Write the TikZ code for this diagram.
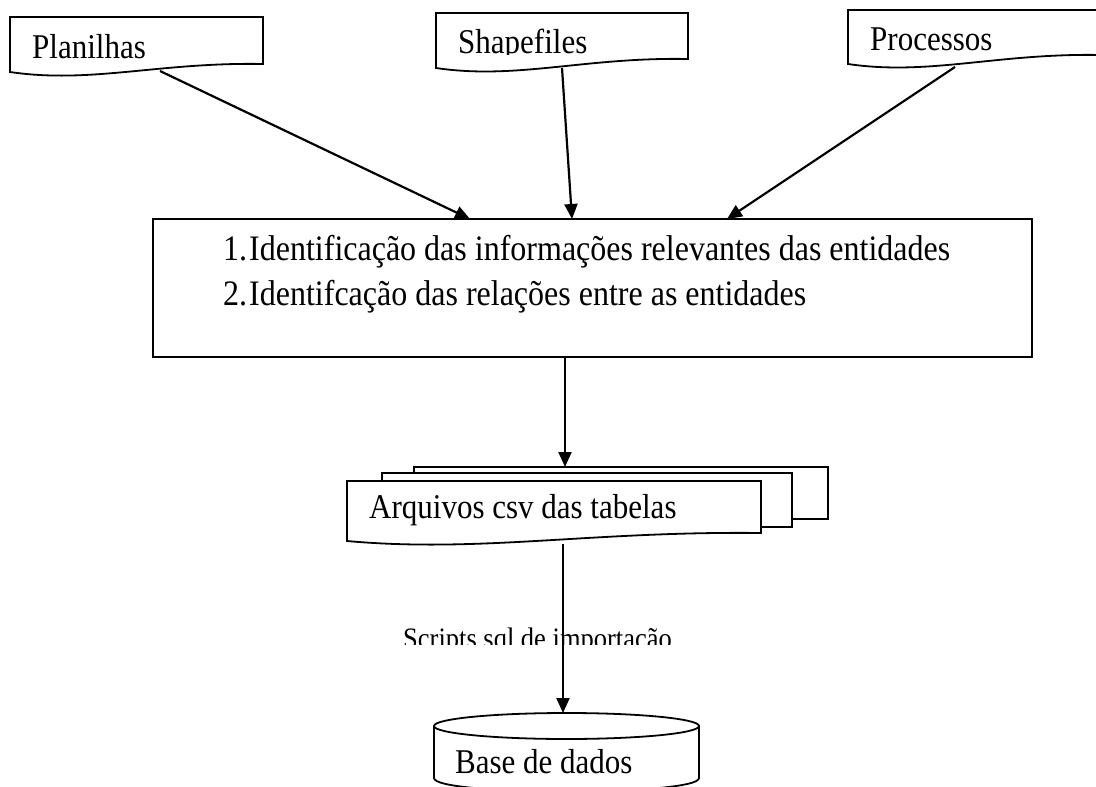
\documentclass[tikz,border=0pt]{standalone}
\usepackage{graphicx}
\usepackage{fontspec}
\setmainfont{Liberation Serif}
\usetikzlibrary{arrows.meta}
\newcommand\talltext[1]{\scalebox{1}[1.12]{#1}}
\tikzset{
  docbox/.style={draw=black, fill=white, line width=1.8pt, line join=miter},
  bigtxt/.style={font=\fontsize{31}{37}\selectfont, anchor=base west, inner sep=0pt},
  maintxt/.style={font=\fontsize{32}{38}\selectfont, anchor=base west, inner sep=0pt},
  lbltxt/.style={font=\fontsize{26.5}{31}\selectfont, anchor=base west, inner sep=0pt},
  arr/.style={line width=2.2pt, -{Triangle[length=15pt,width=13pt]}}
}
% document shape: left, top, right, bottom-right, bottom-left
\newcommand\mydocpath[5]{%
  (#1,#2) -- (#3,#2) -- (#3,#4)
  .. controls ({#3-0.41*(#3-#1)},{#4-2}) and ({#1+0.32*(#3-#1)},{#5+12}) .. (#1,#5) -- cycle}
\begin{document}
\begin{tikzpicture}[x=1pt,y=-1pt]
\useasboundingbox (0,0) rectangle (1096,787);
\clip (0,0) rectangle (1096,787);

% source documents
\draw[docbox] \mydocpath{10}{17}{263}{64}{72};
\node[bigtxt] (planilhas) at (32,58) {\talltext{Planilhas}};

\draw[docbox] \mydocpath{436}{13}{688}{59}{68};
\begin{scope}
  \clip (440,15) rectangle (680,54);
  \node[bigtxt] (shapefiles) at (458,53) {\talltext{Shapefiles}};
\end{scope}

\draw[docbox] \mydocpath{848}{10}{1101}{55}{64};
\node[bigtxt] (processos) at (870,50) {\talltext{Processos}};

% main process box
\node[draw, line width=1.8pt, minimum width=879pt, minimum height=138pt, inner sep=0pt] (main) at (592.5,288) {};
\node[maintxt] (n1) at (223,260) {\talltext{1.}};
\node[maintxt] (t1) at (249,260) {\talltext{Identificação das informações relevantes das entidades}};
\node[maintxt] (n2) at (223,305) {\talltext{2.}};
\node[maintxt] (t2) at (249,305) {\talltext{Identifcação das relações entre as entidades}};

% connectors from sources
\coordinate (s1) at (160,71);
\coordinate (s2) at (562,68);
\coordinate (s3) at (955,67);
\coordinate (m1) at (470,219);
\coordinate (m2) at (572,219);
\coordinate (m3) at (727,219);
\draw[arr] (s1) -- (m1);
\draw[arr] (s2) -- (m2);
\draw[arr] (s3) -- (m3);

% multi-document
\draw[docbox] (414,467) rectangle (828,519);
\draw[docbox] (382,473) rectangle (792,527);
\draw[docbox] \mydocpath{347}{481}{761}{533}{541};
\node[bigtxt] (arquivos) at (369,518) {\talltext{Arquivos csv das tabelas}};

\coordinate (mb) at (565,357);
\coordinate (ct) at (565,467);
\draw[arr] (mb) -- (ct);

% label (clipped as in the original)
\begin{scope}
  \clip (380,600) rectangle (700,644);
  \node[lbltxt] (lbl) at (403,648) {\talltext{Scripts sql de importação}};
\end{scope}

% database cylinder
\draw[line width=1.8pt, fill=white] (434,726) -- (434,778)
  .. controls (434,796) and (699,796) .. (699,778) -- (699,726);
\draw[line width=1.8pt, fill=white] (566.5,726) ellipse [x radius=132.5, y radius=13];
\node[bigtxt] (base) at (455,773) {\talltext{Base de dados}};

\coordinate (cb) at (563,544);
\coordinate (db) at (563,713);
\draw[arr] (cb) -- (db);
\end{tikzpicture}
\end{document}
